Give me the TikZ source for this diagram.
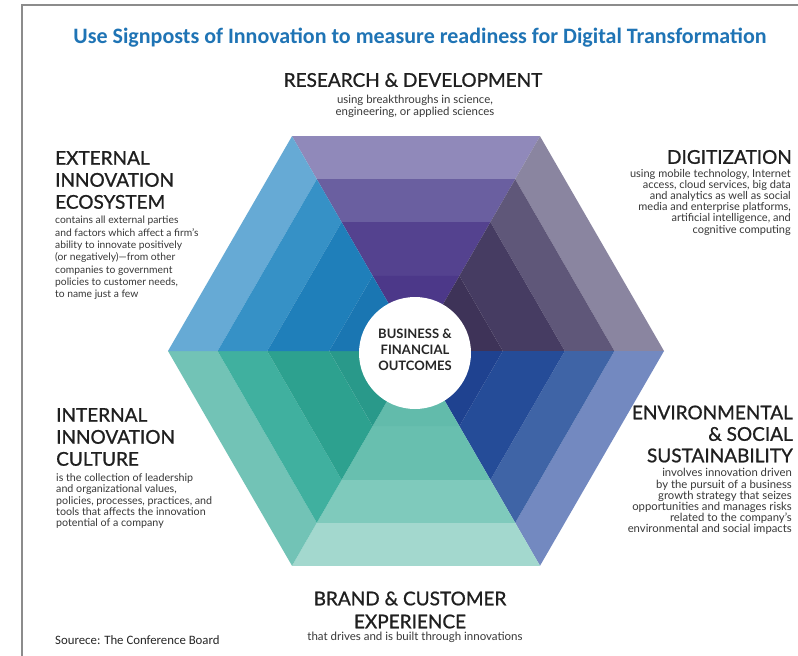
\documentclass[tikz,border=0pt]{standalone}
\usepackage{fontspec}
\setmainfont{Lato}
\newfontfamily\titlefont{Carlito}
\newfontfamily\headfont[FakeBold=0.9]{Lato}
\begin{document}
\begin{tikzpicture}[x=1pt,y=-1pt,
  heading/.style={inner sep=0pt,text=black!88,font=\headfont\fontsize{19}{22}\selectfont},
  blurb/.style={inner sep=0pt,text=black!78,font=\fontsize{10}{11.2}\selectfont},
  framerule/.style={draw=black!45!white,line width=1.5pt}]
\definecolor{titleblue}{HTML}{1F74B5}
% colours of the six sectors, outer band to core
\definecolor{rdA}{HTML}{9089BA}\definecolor{rdB}{HTML}{6A5FA0}\definecolor{rdC}{HTML}{54428F}\definecolor{rdD}{HTML}{4C3889}
\definecolor{dgA}{HTML}{8A85A0}\definecolor{dgB}{HTML}{5F5779}\definecolor{dgC}{HTML}{463C62}\definecolor{dgD}{HTML}{3E3358}
\definecolor{esA}{HTML}{7389C0}\definecolor{esB}{HTML}{3F64A6}\definecolor{esC}{HTML}{254C98}\definecolor{esD}{HTML}{1F4290}
\definecolor{bcA}{HTML}{A3D8CE}\definecolor{bcB}{HTML}{7FCABC}\definecolor{bcC}{HTML}{68BFAF}\definecolor{bcD}{HTML}{62BBAB}
\definecolor{icA}{HTML}{72C3B6}\definecolor{icB}{HTML}{40B09F}\definecolor{icC}{HTML}{2DA18F}\definecolor{icD}{HTML}{29998A}
\definecolor{eiA}{HTML}{66AAD5}\definecolor{eiB}{HTML}{3691C6}\definecolor{eiC}{HTML}{1F7FBA}\definecolor{eiD}{HTML}{1A76B2}

\useasboundingbox (0,0) rectangle (798,656);
\fill[white] (0,0) rectangle (798,656);

% page frame
\draw[framerule] (22,656) -- (22,5) -- (798,5);

% hexagon: six sectors, each in four concentric bands
\newcommand{\hexsector}[3]{%
  \fill[#3A] (#1:248) -- (#2:248) -- (#2:198.4) -- (#1:198.4) -- cycle;
  \fill[#3B] (#1:198.4) -- (#2:198.4) -- (#2:148.8) -- (#1:148.8) -- cycle;
  \fill[#3C] (#1:148.8) -- (#2:148.8) -- (#2:86.8) -- (#1:86.8) -- cycle;
  \fill[#3D] (#1:86.8) -- (#2:86.8) -- (0,0) -- cycle;}
\begin{scope}[shift={(416,351)}]
  \hexsector{240}{300}{rd}
  \hexsector{300}{360}{dg}
  \hexsector{0}{60}{es}
  \hexsector{60}{120}{bc}
  \hexsector{120}{180}{ic}
  \hexsector{180}{240}{ei}
\end{scope}

% centre
\node[circle,fill=white,minimum size=112pt,inner sep=0pt] (core) at (415,353) {};
\node[align=center,inner sep=0pt,font=\bfseries\fontsize{13}{16}\selectfont,text=black!85] (coretext) at (415,350)
  {BUSINESS \&\\FINANCIAL\\OUTCOMES};

% title
\node[inner sep=0pt,text=titleblue,font=\titlefont\bfseries\fontsize{22}{24}\selectfont] (title) at (420,38)
  {Use Signposts of Innovation to measure readiness for Digital Transformation};

% research & development
\node[heading] (rdhead) at (413,80) {RESEARCH \& DEVELOPMENT};
\node[blurb,align=center,font=\fontsize{11.4}{12}\selectfont] (rdtext) at (415,106)
  {using breakthroughs in science,\\engineering, or applied sciences};

% external innovation ecosystem
\node[heading,align=left,anchor=west] (eihead) at (55,180) {EXTERNAL\\INNOVATION\\ECOSYSTEM};
\node[blurb,align=left,anchor=west,font=\fontsize{10.3}{12.3}\selectfont] (eitext) at (55,258)
  {contains all external parties\\and factors which affect a firm's\\ability to innovate positively\\(or negatively)---from other\\companies to government\\policies to customer needs,\\to name just a few};

% digitization
\node[heading,anchor=east] (dghead) at (792,157) {DIGITIZATION};
\node[blurb,align=right,anchor=east,font=\fontsize{11}{11.2}\selectfont] (dgtext) at (791,202)
  {using mobile technology, Internet\\access, cloud services, big data\\and analytics as well as social\\media and enterprise platforms,\\artificial intelligence, and\\cognitive computing};

% internal innovation culture
\node[heading,align=left,anchor=west] (ichead) at (56,437) {INTERNAL\\INNOVATION\\CULTURE};
\node[blurb,align=left,anchor=west,font=\fontsize{10.7}{11.2}\selectfont] (ictext) at (56,501)
  {is the collection of leadership\\and organizational values,\\policies, processes, practices, and\\tools that affects the innovation\\potential of a company};

% environmental & social sustainability
\node[heading,align=right,anchor=east,font=\headfont\fontsize{19}{21.5}\selectfont] (eshead) at (793,434) {ENVIRONMENTAL\\\& SOCIAL\\SUSTAINABILITY};
\node[blurb,align=right,anchor=east,font=\fontsize{11.3}{11.1}\selectfont] (estext) at (792,501.5)
  {involves innovation driven\\by the pursuit of a business\\growth strategy that seizes\\opportunities and manages risks\\related to the company's\\environmental and social impacts};

% brand & customer experience
\node[heading,align=center,font=\headfont\fontsize{19}{23}\selectfont] (bchead) at (410,610) {BRAND \& CUSTOMER\\EXPERIENCE};
\node[blurb,font=\fontsize{11.5}{12}\selectfont] (bctext) at (415,637) {that drives and is built through innovations};

% source line
\node[inner sep=0pt,anchor=west,text=black!85,font=\titlefont\fontsize{12.8}{14}\selectfont] (source) at (55,640)
  {Sourece: The Conference Board};
\end{tikzpicture}
\end{document}
